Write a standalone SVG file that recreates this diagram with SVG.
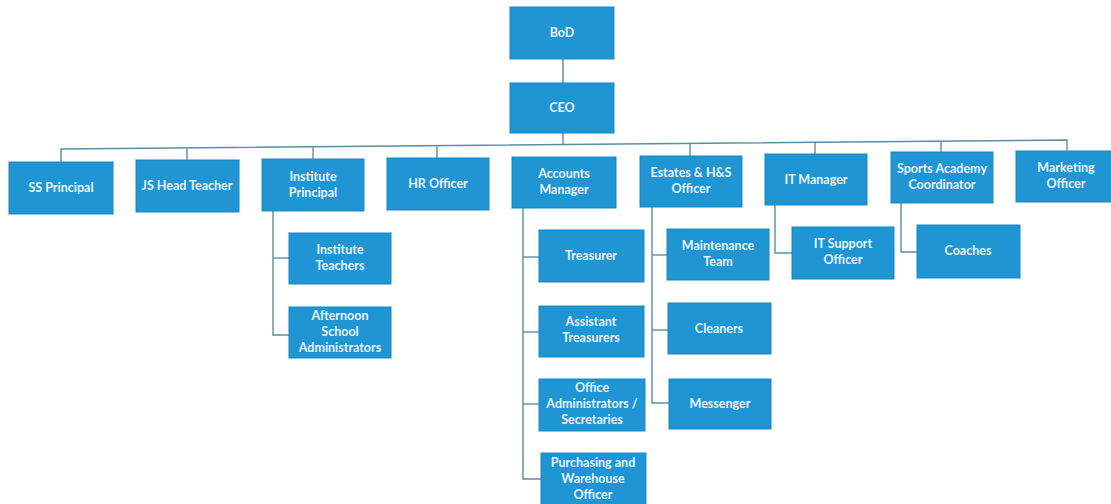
<svg xmlns="http://www.w3.org/2000/svg" width="1111" height="504" viewBox="0 0 1111 504">
<style>
.b{fill:#1f95d4;stroke:#1a87c2;stroke-width:1}
.t{font-family:Lato,"Open Sans","Liberation Sans",sans-serif;font-size:12.5px;font-weight:bold;fill:#eaf4fb;text-anchor:middle}
.c{stroke:#5b8ea6;stroke-width:1.4;fill:none}
</style>
<rect width="1111" height="504" fill="#ffffff"/>
<g id="connectors">
<line class="c" x1="563" y1="59" x2="563" y2="83"/>
<line class="c" x1="563" y1="133" x2="563" y2="145"/>
<polyline class="c" points="61,162 61,149 1067,140 1067,151"/>
<line class="c" x1="187" y1="148.7" x2="187" y2="160"/>
<line class="c" x1="313" y1="147.5" x2="313" y2="159"/>
<line class="c" x1="437" y1="146.4" x2="437" y2="158"/>
<line class="c" x1="690" y1="144.1" x2="690" y2="156"/>
<line class="c" x1="815" y1="143" x2="815" y2="154"/>
<line class="c" x1="941" y1="141.9" x2="941" y2="152"/>
<polyline class="c" points="273,211 273,335 289,335"/>
<line class="c" x1="273" y1="258" x2="289" y2="258"/>
<polyline class="c" points="523,208 523,479 541,479"/>
<line class="c" x1="523" y1="257" x2="539" y2="257"/>
<line class="c" x1="523" y1="332" x2="539" y2="332"/>
<line class="c" x1="523" y1="404" x2="539" y2="404"/>
<polyline class="c" points="652,207 652,403 669,403"/>
<line class="c" x1="652" y1="255" x2="667" y2="255"/>
<line class="c" x1="652" y1="330" x2="668" y2="330"/>
<polyline class="c" points="775,205 775,253 792,253"/>
<polyline class="c" points="901,203 901,252 917,252"/>
</g>
<g id="bod"><rect class="b" x="510" y="7" width="104" height="52"/><text class="t" x="562" y="37">BoD</text></g>
<g id="ceo"><rect class="b" x="510" y="83" width="104" height="50"/><text class="t" x="562" y="112">CEO</text></g>
<g id="ss"><rect class="b" x="9" y="162" width="104" height="52"/><text class="t" x="61" y="192">SS Principal</text></g>
<g id="js"><rect class="b" x="136" y="160" width="103" height="52"/><text class="t" x="187" y="190">JS Head Teacher</text></g>
<g id="inst"><rect class="b" x="262" y="159" width="102" height="52"/><text class="t" x="313" y="181">Institute</text><text class="t" x="313" y="197">Principal</text></g>
<g id="hr"><rect class="b" x="387" y="158" width="102" height="52"/><text class="t" x="438" y="188">HR Officer</text></g>
<g id="acc"><rect class="b" x="512" y="157" width="104" height="51"/><text class="t" x="564" y="178">Accounts</text><text class="t" x="564" y="194">Manager</text></g>
<g id="est"><rect class="b" x="640" y="156" width="102" height="51"/><text class="t" x="691" y="177">Estates &amp; H&amp;S</text><text class="t" x="691" y="193">Officer</text></g>
<g id="itm"><rect class="b" x="765" y="154" width="102" height="51"/><text class="t" x="816" y="184">IT Manager</text></g>
<g id="sports"><rect class="b" x="891" y="152" width="102" height="51"/><text class="t" x="942" y="173">Sports Academy</text><text class="t" x="942" y="189">Coordinator</text></g>
<g id="mkt"><rect class="b" x="1016" y="151" width="100" height="51"/><text class="t" x="1066" y="172">Marketing</text><text class="t" x="1066" y="188">Officer</text></g>
<g id="itch"><rect class="b" x="289" y="233" width="102" height="51"/><text class="t" x="340" y="254">Institute</text><text class="t" x="340" y="270">Teachers</text></g>
<g id="aft"><rect class="b" x="289" y="307" width="102" height="51"/><text class="t" x="340" y="320">Afternoon</text><text class="t" x="340" y="336">School</text><text class="t" x="340" y="352">Administrators</text></g>
<g id="treas"><rect class="b" x="539" y="230" width="105" height="52"/><text class="t" x="591" y="260">Treasurer</text></g>
<g id="atreas"><rect class="b" x="539" y="306" width="105" height="51"/><text class="t" x="591" y="326">Assistant</text><text class="t" x="591" y="342">Treasurers</text></g>
<g id="office"><rect class="b" x="539" y="379" width="106" height="52"/><text class="t" x="592" y="392">Office</text><text class="t" x="592" y="408">Administrators /</text><text class="t" x="592" y="424">Secretaries</text></g>
<g id="purch"><rect class="b" x="541" y="453" width="105" height="52"/><text class="t" x="593" y="467">Purchasing and</text><text class="t" x="593" y="483">Warehouse</text><text class="t" x="593" y="499">Officer</text></g>
<g id="maint"><rect class="b" x="667" y="229" width="102" height="51"/><text class="t" x="718" y="250">Maintenance</text><text class="t" x="718" y="266">Team</text></g>
<g id="clean"><rect class="b" x="668" y="303" width="103" height="51"/><text class="t" x="719" y="333">Cleaners</text></g>
<g id="mess"><rect class="b" x="669" y="379" width="102" height="50"/><text class="t" x="720" y="408">Messenger</text></g>
<g id="itsup"><rect class="b" x="792" y="227" width="102" height="52"/><text class="t" x="843" y="248">IT Support</text><text class="t" x="843" y="264">Officer</text></g>
<g id="coach"><rect class="b" x="917" y="225" width="103" height="53"/><text class="t" x="968" y="255">Coaches</text></g>
</svg>
